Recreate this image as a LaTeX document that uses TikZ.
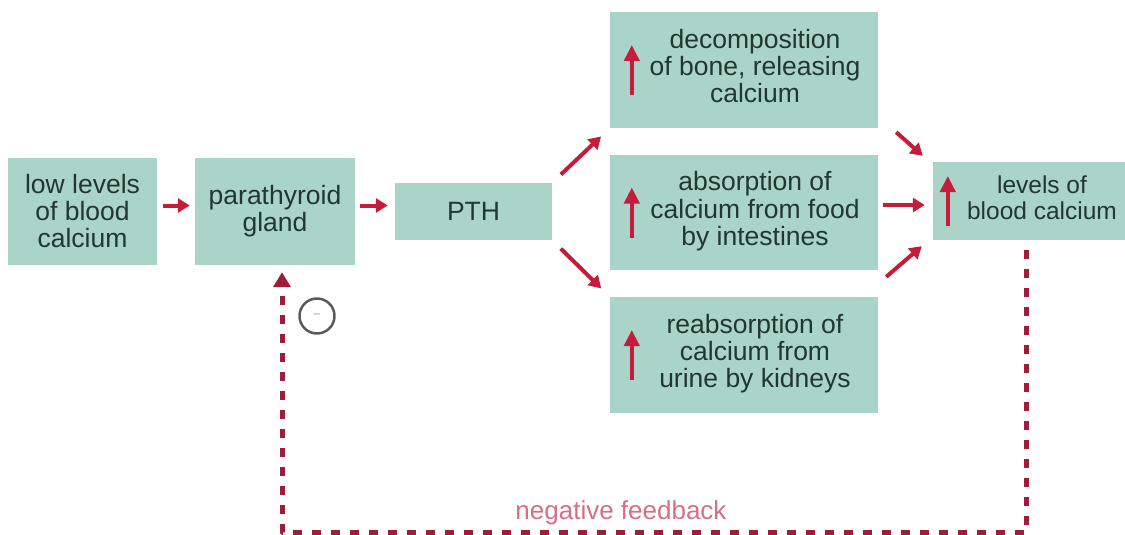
\documentclass[tikz,border=0pt]{standalone}
\usepackage{fontspec}
\setmainfont{Liberation Sans}
\usetikzlibrary{arrows.meta,calc}

\definecolor{boxgreen}{RGB}{170,212,199}
\definecolor{boxtext}{RGB}{32,56,48}
\definecolor{arrowred}{RGB}{196,28,58}
\definecolor{loopred}{RGB}{160,28,60}
\definecolor{notepink}{RGB}{214,110,135}
\definecolor{minusgrey}{RGB}{90,90,90}

% text block pushed right, to leave room for the rising arrow
\newcommand{\risetext}[1]{\hspace*{22pt}\begin{tabular}{@{}c@{}}#1\end{tabular}}

\tikzset{
	box/.style={fill=boxgreen, text=boxtext, align=center, inner sep=0pt, font=\fontsize{26.5}{27}\selectfont},
	flow/.style={arrowred, line width=4pt, -{Triangle[width=14pt,length=12pt]}},
	gap/.style={shorten <=#1, shorten >=#1},
	rise/.style={arrowred, line width=4.5pt, -{Triangle[width=15pt,length=16pt]}},
	loop/.style={loopred, line width=5pt, dash pattern=on 9pt off 10pt, -{Triangle[width=17pt,length=15pt]}}
}

\begin{document}
\begin{tikzpicture}[x=1pt, y=-1pt, line join=round]
	\useasboundingbox (0,0) rectangle (1125,535);
	
	\node[box, minimum width=149pt, minimum height=107pt] (low) at (82.5,211.5) {low levels\\of blood\\calcium};
	\node[box, minimum width=160pt, minimum height=107pt] (para) at (275,211.5) {parathyroid\\gland};
	\node[box, minimum width=157pt, minimum height=57pt] (PTH) at (473.5,211.5) {PTH};
	
	\node[box, minimum width=268pt, minimum height=116pt] (decomp) at (744,70) {\risetext{decomposition\\of bone, releasing\\calcium}};
	\node[box, minimum width=268pt, minimum height=115pt] (absorb) at (744,212.5) {\risetext{absorption of\\calcium from food\\by intestines}};
	\node[box, minimum width=268pt, minimum height=116pt] (reabs) at (744,355) {\risetext{reabsorption of\\calcium from\\urine by kidneys}};
	\node[box, minimum width=196pt, minimum height=78pt, font=\fontsize{24.5}{26}\selectfont] (levels) at (1031,201) {\risetext{levels of\\blood calcium}};
	
	% rising arrows inside the boxes
	\foreach \b/\d in {decomp/22, absorb/22, reabs/22, levels/15} {
		\draw[rise] ($(\b.west)+(\d,25)$) -- ++(0,-50);
	}
	
	\draw[flow, shorten <=6pt, shorten >=5pt] ([yshift=6pt]low.east) -- ([yshift=6pt]para.west);
	\draw[flow, shorten <=5pt, shorten >=7pt] ([yshift=6pt]para.east) -- ([yshift=6pt]PTH.west);
	\draw[flow, gap=12pt] (PTH.north east) -- (decomp.south west);
	\draw[flow, gap=12pt] (PTH.south east) -- (reabs.north west);
	
	\draw[flow] ($(decomp.south east)+(18,4)$) -- ($(levels.north west)+(-10,-6)$);
	\draw[flow, shorten <=5pt, shorten >=8pt] ([yshift=7.5pt]absorb.east) -- ([yshift=-4pt]levels.west);
	\draw[flow] ($(reabs.north east)+(8,-20)$) -- ($(levels.south west)+(-11,6)$);
	
	% feedback loop
	\coordinate (fbstart) at ($(levels.south west)+(94,10)$);
	\coordinate (fbcorner) at (282,532);
	\coordinate (fbend) at ($(para.south)+(7,7)$);
	\draw[loop] (fbstart) |- (fbcorner) -- (fbend);
	
	\node[circle, draw=minusgrey, line width=2.5pt, minimum size=35pt, inner sep=0pt, text=minusgrey!60, font=\fontsize{12}{12}\selectfont] (minus) at (317,316) {--};
	\node[text=notepink, font=\fontsize{26}{28}\selectfont] (note) at (621,513) {negative feedback};
\end{tikzpicture}
\end{document}
